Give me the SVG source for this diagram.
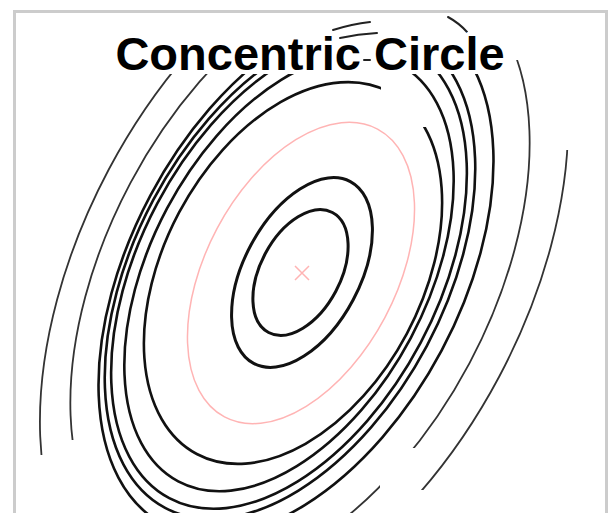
<svg xmlns="http://www.w3.org/2000/svg" width="612" height="513" viewBox="0 0 612 513">
<style>
.ring{fill:none;stroke:#111;stroke-width:2.6}
.faint{fill:none;stroke:#333;stroke-width:1.8}
.inner{fill:none;stroke:#111;stroke-width:3}
.seg{fill:none;stroke:#222;stroke-width:2;stroke-linecap:round}
.red{fill:none;stroke:#ffb4b4;stroke-width:1.5}
.title{font-family:"Liberation Sans",Arial,sans-serif;font-weight:bold;font-size:47px;fill:#000;stroke:#fff;stroke-width:8;paint-order:stroke;stroke-linejoin:round}
</style>
<defs>
<clipPath id="frame"><rect x="16" y="13" width="589" height="520"/></clipPath>
<mask id="mTop" maskUnits="userSpaceOnUse" x="0" y="0" width="612" height="513">
<rect x="0" y="0" width="612" height="513" fill="#fff"/>
<rect x="0" y="0" width="612" height="74" fill="#000"/>
</mask>
<mask id="m7" maskUnits="userSpaceOnUse" x="0" y="0" width="612" height="513">
<rect x="0" y="0" width="612" height="513" fill="#fff"/>
<rect x="0" y="0" width="612" height="74" fill="#000"/>
<rect x="381" y="0" width="231" height="127" fill="#000"/>
</mask>
<mask id="m2" maskUnits="userSpaceOnUse" x="0" y="0" width="612" height="513">
<rect x="0" y="0" width="612" height="513" fill="#fff"/>
<rect x="0" y="0" width="612" height="60" fill="#000"/>
<rect x="0" y="0" width="505" height="74" fill="#000"/>
<rect x="0" y="440" width="125" height="80" fill="#000"/>
<rect x="380" y="448" width="120" height="80" fill="#000"/>
</mask>
<mask id="m1" maskUnits="userSpaceOnUse" x="0" y="0" width="612" height="513">
<rect x="0" y="0" width="612" height="513" fill="#fff"/>
<rect x="0" y="0" width="612" height="74" fill="#000"/>
<rect x="430" y="0" width="182" height="150" fill="#000"/>
<rect x="0" y="455" width="125" height="80" fill="#000"/>
<rect x="380" y="490" width="120" height="40" fill="#000"/>
</mask>
</defs>
<rect x="0" y="0" width="612" height="513" fill="#fff"/>
<g clip-path="url(#frame)">
<g id="outer-rings">
<g mask="url(#m1)"><ellipse id="r1" class="faint" transform="translate(304 273) rotate(28)" rx="221" ry="379"/></g>
<g mask="url(#m2)"><ellipse id="r2" class="faint" transform="translate(300 273) rotate(28)" rx="192" ry="330"/></g>
<g mask="url(#mTop)">
<ellipse id="r3" class="ring" transform="translate(296 273) rotate(28)" rx="165" ry="284"/>
<ellipse id="r4" class="ring" transform="translate(290 273) rotate(28)" rx="155" ry="266"/>
<ellipse id="r5" class="ring" transform="translate(289 273) rotate(28)" rx="149" ry="255"/>
<ellipse id="r6" class="ring" transform="translate(289 273) rotate(28)" rx="138" ry="236"/>
</g>
<g mask="url(#m7)"><ellipse id="r7" class="ring" transform="translate(293 273) rotate(28)" rx="129" ry="205"/></g>
</g>
<g id="top-strokes">
<path class="seg" d="M333 30 Q352 24 370 22"/>
<path class="seg" d="M340 38 Q358 34 377 33"/>
<path class="seg" d="M448 17 Q459 23 467 32"/>
</g>
<g id="red-guide">
<ellipse class="red" transform="translate(301 273) rotate(28)" rx="95" ry="163"/>
<path class="red" d="M295 266 L309 280 M309 266 L295 280"/>
</g>
<g id="inner-rings">
<ellipse class="inner" transform="translate(302 272.5) rotate(28)" rx="58" ry="103"/>
<ellipse class="inner" transform="translate(300.5 272.5) rotate(28)" rx="40" ry="68"/>
</g>
</g>
<rect id="frame-border" x="14.5" y="11.5" width="592" height="530" fill="none" stroke="#cccccc" stroke-width="3"/>
<text id="title" class="title" x="310" y="70" text-anchor="middle">Concentric Circle</text>
<path class="seg" d="M364 60 L370 60"/>
</svg>
